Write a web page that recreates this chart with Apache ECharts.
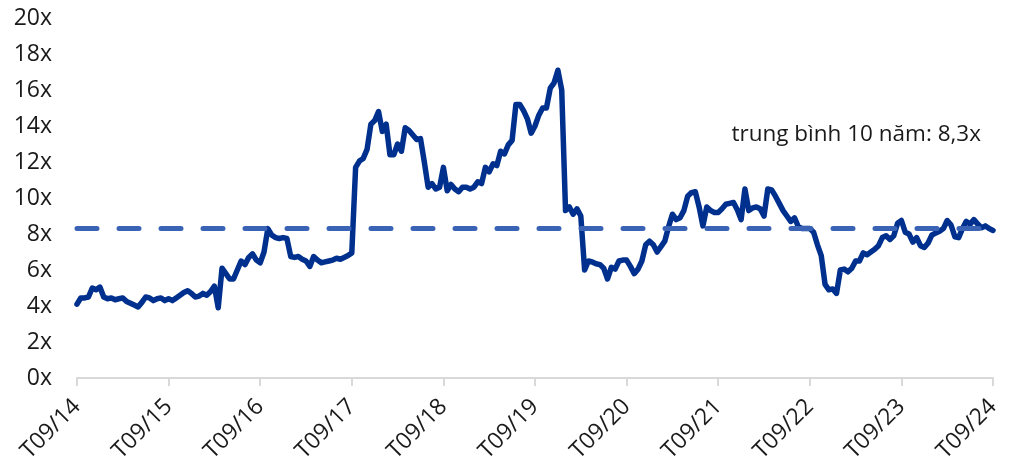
<!DOCTYPE html>
<html>
<head>
<meta charset="utf-8">
<script src="https://cdn.jsdelivr.net/npm/echarts@6/dist/echarts.min.js"></script>
<style>
  html, body { margin: 0; padding: 0; background: #fff; }
  #chart { width: 1015px; height: 470px; }
</style>
</head>
<body>
<div id="chart"></div>
<script>
// nhãn trục hoành (mỗi năm 24 điểm, nửa tháng một điểm)
var tickLabels = ['T09/14', 'T09/15', 'T09/16', 'T09/17', 'T09/18', 'T09/19', 'T09/20', 'T09/21', 'T09/22', 'T09/23', 'T09/24'];
var perYear = 24;

// P/E theo từng năm (T09 năm trước -> T09 năm sau)
var pe14 = [4.1, 4.45, 4.45, 4.5, 5.0, 4.9, 5.05, 4.5, 4.4, 4.45, 4.35, 4.4, 4.45, 4.25, 4.15, 4.05, 3.95, 4.2, 4.5, 4.45, 4.3, 4.4, 4.45, 4.3];
var pe15 = [4.4, 4.3, 4.45, 4.6, 4.75, 4.85, 4.7, 4.5, 4.55, 4.7, 4.6, 4.8, 5.1, 3.9, 6.1, 5.8, 5.5, 5.5, 6.0, 6.5, 6.3, 6.7, 6.9, 6.55];
var pe16 = [6.4, 7.0, 8.3, 7.95, 7.8, 7.75, 7.8, 7.75, 6.75, 6.7, 6.75, 6.6, 6.5, 6.2, 6.75, 6.55, 6.4, 6.45, 6.5, 6.55, 6.65, 6.6, 6.7, 6.8];
var pe17 = [6.95, 11.7, 12.05, 12.2, 12.7, 14.1, 14.3, 14.8, 13.7, 14.1, 12.4, 12.4, 13.0, 12.6, 13.9, 13.75, 13.5, 13.25, 13.3, 12.0, 10.6, 10.8, 10.5, 10.6];
var pe18 = [11.7, 10.4, 10.75, 10.5, 10.35, 10.6, 10.6, 10.5, 10.6, 10.9, 10.8, 11.7, 11.45, 11.9, 11.8, 12.6, 12.45, 12.95, 13.2, 15.2, 15.2, 14.85, 14.4, 13.6];
var pe19 = [14.0, 14.6, 15.0, 15.0, 16.1, 16.4, 17.1, 16.0, 9.3, 9.5, 9.1, 9.4, 9.0, 6.0, 6.5, 6.45, 6.35, 6.3, 6.1, 5.5, 6.15, 6.05, 6.5, 6.55];
var pe20 = [6.55, 6.2, 5.8, 6.05, 6.5, 7.4, 7.6, 7.4, 7.0, 7.3, 7.6, 8.4, 9.1, 8.8, 8.9, 9.3, 10.1, 10.3, 10.35, 9.5, 8.45, 9.5, 9.3, 9.2];
var pe21 = [9.2, 9.4, 9.65, 9.7, 9.75, 9.35, 8.8, 10.5, 9.3, 9.45, 9.5, 9.4, 9.0, 10.5, 10.45, 10.1, 9.7, 9.3, 9.0, 8.7, 8.9, 8.4, 8.3, 8.3];
var pe22 = [8.3, 8.1, 7.4, 6.8, 5.2, 4.9, 4.95, 4.7, 6.0, 6.05, 5.9, 6.1, 6.5, 6.5, 6.95, 6.85, 7.0, 7.15, 7.35, 7.8, 7.9, 7.7, 7.9, 8.6];
var pe23 = [8.75, 8.1, 8.0, 7.55, 7.8, 7.35, 7.25, 7.5, 7.95, 8.05, 8.15, 8.3, 8.75, 8.5, 7.85, 7.8, 8.3, 8.7, 8.55, 8.8, 8.55, 8.35, 8.45, 8.3];
var peLast = [8.2];

var avg10y = 8.3;
var avgLabel = 'trung bình 10 năm: 8,3x';

var peData = [].concat(pe14, pe15, pe16, pe17, pe18, pe19, pe20, pe21, pe22, pe23, peLast);
var cats = [];
for (var i = 0; i < peData.length; i++) {
    cats.push(i);
}

function isYearTick(index) {
    return index % perYear === 0;
}

var font = 'Open Sans';

var myChart = echarts.init(document.getElementById('chart'));

myChart.setOption({
    animation: false,
    title: {
        text: avgLabel,
        right: 29,
        top: 118,
        textStyle: {
            fontFamily: font,
            fontSize: 22.5,
            fontWeight: 'normal',
            color: '#1a1a1a'
        }
    },
    grid: {
        left: 77,
        right: 22,
        top: 18,
        bottom: 92
    },
    xAxis: {
        type: 'category',
        data: cats,
        boundaryGap: false,
        axisLine: { lineStyle: { color: '#d9d9d9', width: 2 } },
        axisTick: {
            interval: function (index) { return isYearTick(index); },
            length: 8,
            lineStyle: { color: '#d9d9d9', width: 2 }
        },
        axisLabel: {
            interval: function (index) { return isYearTick(index); },
            formatter: function (v, index) { return tickLabels[index / perYear]; },
            rotate: 45,
            margin: 25,
            fontFamily: font,
            fontSize: 23,
            color: '#1a1a1a'
        },
        splitLine: { show: false }
    },
    yAxis: {
        type: 'value',
        min: 0,
        max: 20,
        interval: 2,
        axisLine: { show: false },
        axisTick: { show: false },
        splitLine: { show: false },
        axisLabel: {
            formatter: '{value}x',
            margin: 25,
            fontFamily: font,
            fontSize: 23,
            color: '#1a1a1a'
        }
    },
    series: [
        {
            type: 'line',
            data: peData,
            symbol: 'none',
            lineStyle: { color: '#00308e', width: 5.5, join: 'round', cap: 'round' },
            markLine: {
                silent: true,
                symbol: 'none',
                label: { show: false },
                lineStyle: {
                    color: '#3a63b5',
                    width: 5,
                    type: [20, 22],
                    cap: 'round'
                },
                data: [{ yAxis: avg10y }]
            },
            z: 3
        }
    ]
});
</script>
</body>
</html>
